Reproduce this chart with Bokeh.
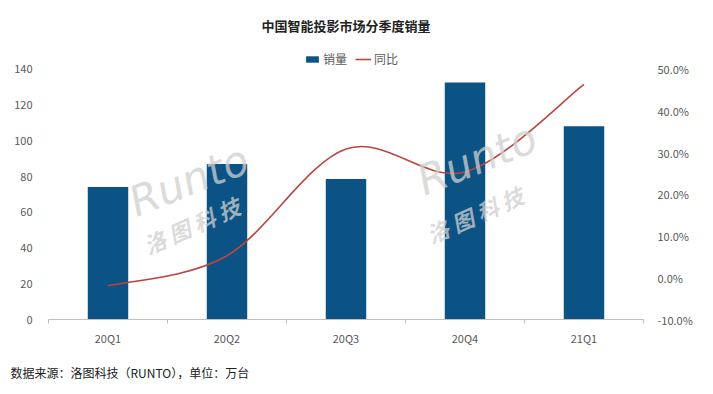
from bokeh.plotting import figure
from bokeh.models import (Range1d, LinearAxis, FixedTicker, Label, Legend, LegendItem,
                          ColumnDataSource, Title)
from bokeh.embed import file_html
from bokeh.resources import INLINE

quarters = ["20Q1", "20Q2", "20Q3", "20Q4", "21Q1"]
sales = [74.2, 87.0, 78.6, 132.7, 108.2]
yoy = [-1.9, 5.3, 30.9, 25.4, 46.4]
left_ticks = [0, 20, 40, 60, 80, 100, 120, 140]
right_ticks = [-10, 0, 10, 20, 30, 40, 50]

FONT = "Noto Sans CJK SC"
GRAY = "#595959"
BAR = "#0A5384"
LINE = "#BC4540"

W, H = 705, 394
FRAME_L, FRAME_R = 48, 643
AX_BOTTOM, TICK_TOP, FRAME_TOP = 320, 69, 44
ext = (AX_BOTTOM - FRAME_TOP) / (AX_BOTTOM - TICK_TOP)
left_end = left_ticks[0] + (left_ticks[-1] - left_ticks[0]) * ext
right_end = right_ticks[0] + (right_ticks[-1] - right_ticks[0]) * ext

p = figure(width=W, height=H, output_backend="svg", toolbar_location=None,
           x_range=Range1d(0, len(quarters)), y_range=Range1d(0, left_end),
           min_border_left=FRAME_L, min_border_right=W - FRAME_R,
           min_border_top=FRAME_TOP, min_border_bottom=H - AX_BOTTOM)
p.outline_line_color = None
p.xgrid.visible = False
p.ygrid.visible = False
p.extra_y_ranges = {"pct": Range1d(right_ticks[0], right_end)}

xs = [i + 0.5 for i in range(len(quarters))]
src = ColumnDataSource(dict(x=xs, top=sales))

bars = p.vbar(x="x", top="top", width=0.34, bottom=0, source=src, fill_color=BAR, line_color=None)

# smooth line via Catmull-Rom -> cubic Bezier
n = len(yoy)
x0, y0, x1, y1, cx0, cy0, cx1, cy1 = [], [], [], [], [], [], [], []
for i in range(n - 1):
    pa = (xs[i - 1], yoy[i - 1]) if i > 0 else (xs[i], yoy[i])
    pb = (xs[i], yoy[i])
    pc = (xs[i + 1], yoy[i + 1])
    pd = (xs[i + 2], yoy[i + 2]) if i + 2 < n else (xs[i + 1], yoy[i + 1])
    t = 1 / 6
    x0.append(pb[0]); y0.append(pb[1]); x1.append(pc[0]); y1.append(pc[1])
    cx0.append(pb[0] + (pc[0] - pa[0]) * t); cy0.append(pb[1] + (pc[1] - pa[1]) * t)
    cx1.append(pc[0] - (pd[0] - pb[0]) * t); cy1.append(pc[1] - (pd[1] - pb[1]) * t)
curve = p.bezier(x0=x0, y0=y0, x1=x1, y1=y1, cx0=cx0, cy0=cy0, cx1=cx1, cy1=cy1,
                 y_range_name="pct", line_color=LINE, line_width=1.6)

# watermarks (drawn over the bars)
for (rx, ry), (cx, cy) in [((0.77, 52), (0.86, 33)), ((3.19, 64), (3.24, 39))]:
    p.add_layout(Label(x=rx, y=ry, text="Runto", text_font="DejaVu Sans", text_font_size="42px",
                       text_font_style="italic", text_color="#CFCFCF", text_alpha=0.75, angle=0.38))
    p.add_layout(Label(x=cx, y=cy, text="洛 图 科 技", text_font=FONT, text_font_size="22px",
                       text_font_style="bold italic", text_color="#CFCFCF", text_alpha=0.75, angle=0.42))

# x axis
xa = p.xaxis[0]
xa.ticker = FixedTicker(ticks=xs, minor_ticks=list(range(len(quarters) + 1)))
xa.major_label_overrides = {x: q for x, q in zip(xs, quarters)}
xa.major_tick_line_color = None
xa.minor_tick_line_color = "#BFBFBF"
xa.minor_tick_in = 0
xa.minor_tick_out = 4
xa.axis_line_color = "#BFBFBF"
xa.major_label_text_font = FONT
xa.major_label_text_font_size = "11px"
xa.major_label_text_color = GRAY
xa.major_label_standoff = 4

# left axis
ya = p.yaxis[0]
ya.ticker = FixedTicker(ticks=left_ticks)
ya.axis_line_color = None
ya.major_tick_line_color = None
ya.minor_tick_line_color = None
ya.major_label_text_font = FONT
ya.major_label_text_font_size = "11px"
ya.major_label_text_color = GRAY
ya.major_label_standoff = 10

# right axis
ra = LinearAxis(y_range_name="pct", ticker=FixedTicker(ticks=right_ticks))
ra.major_label_overrides = {v: f"{v:.1f}%" for v in right_ticks}
ra.axis_line_color = None
ra.major_tick_line_color = None
ra.minor_tick_line_color = None
ra.major_label_text_font = FONT
ra.major_label_text_font_size = "11px"
ra.major_label_text_color = GRAY
ra.major_label_standoff = 8
p.add_layout(ra, "right")

# title
p.add_layout(Title(text="中国智能投影市场分季度销量", align="center", text_font=FONT,
                   text_font_size="13px", text_font_style="bold", text_color="#222222",
                   standoff=20), "above")

# legend
leg = Legend(items=[LegendItem(label="销量", renderers=[bars]),
                    LegendItem(label="同比", renderers=[curve])],
             orientation="horizontal", location=(256, 252),
             label_text_font=FONT, label_text_font_size="12px", label_text_color=GRAY,
             glyph_width=16, glyph_height=8, spacing=8, label_standoff=3, label_height=14,
             border_line_color=None, background_fill_alpha=0, padding=0, margin=0)
p.add_layout(leg)

# footer
p.add_layout(Title(text="数据来源：洛图科技（RUNTO），单位：万台", align="left", offset=-38,
                   text_font=FONT, text_font_size="12px", text_font_style="normal",
                   text_color="#222222", standoff=27), "below")

open("out.html", "w").write(file_html(p, INLINE))
